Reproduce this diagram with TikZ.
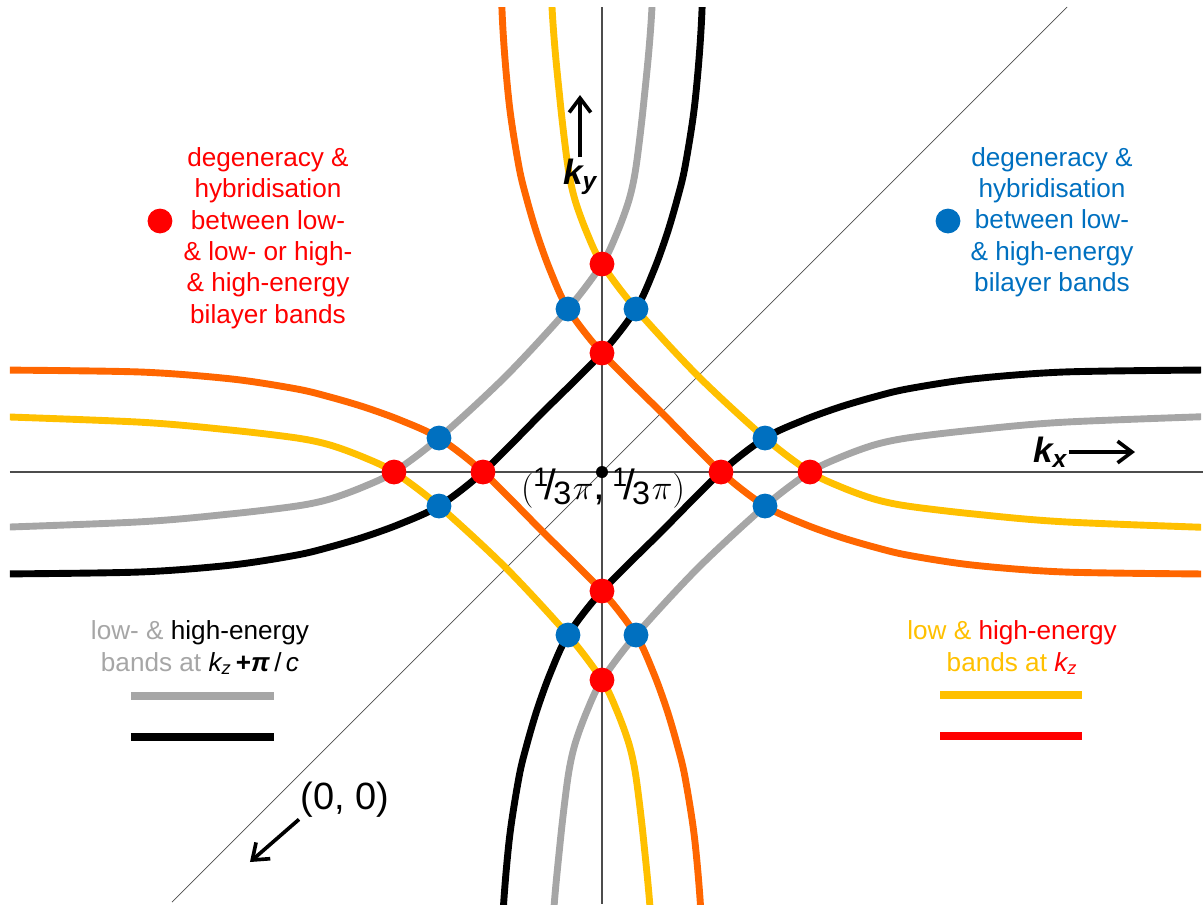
\documentclass[tikz,border=0pt]{standalone}
\usepackage{fontspec}
\setmainfont{Liberation Sans}
\usetikzlibrary{arrows.meta}
\definecolor{Orange}{HTML}{FF6600}
\definecolor{Amber}{HTML}{FFC000}
\definecolor{Grey}{HTML}{A6A6A6}
\definecolor{Red}{HTML}{FF0000}
\definecolor{Blue}{HTML}{0070C0}
\newcommand{\third}{\raisebox{0.32em}{\fontsize{19}{19}\selectfont 1}\kern-0.1em/\kern-0.06em\raisebox{-0.12em}{\fontsize{23}{23}\selectfont 3}\kern0.04em$\pi$}
\begin{document}
\begin{tikzpicture}[x=0.025cm,y=0.025cm,
 band/.style={line width=4.9pt},
 innerband/.pic={\draw[band] plot[smooth] coordinates{(-102,605) (-100,462) (-93,370) (-83,305) (-75,272) (-65,238) (-52,202) (-34,163) (0,119) (59.5,59.5) (119,0) (163,-34) (202,-52) (238,-65) (272,-75) (305,-83) (370,-93) (462,-100) (605,-102)};},
 outerband/.pic={\draw[band] plot[smooth] coordinates{(-57,650) (-50,465) (-42,372) (-34,305) (-27,272) (-15,239) (0,208) (34,163) (96,96) (163,34) (208,0) (239,-15) (272,-27) (305,-34) (372,-42) (465,-50) (650,-57)};},
 dot/.style={circle,fill=#1,minimum size=0.62cm,inner sep=0pt},
 note/.style={font=\fontsize{18.6}{22.3}\selectfont,align=center,inner sep=0pt},
 kaxis/.style={line width=0.8pt,draw=black!70},
 legline/.style={line width=5.7pt,draw=#1},
 pointer/.style={-{Straight Barb[length=3.6mm,width=5.4mm]},line width=2.6pt},
 klabel/.style={font=\fontsize{25}{29}\selectfont\bfseries\itshape,inner sep=1pt}]
 \useasboundingbox(-602,-432)rectangle(601,472);
 % axes and diagonal
 \draw[kaxis](-592,0)--(601,0);\draw[kaxis](0,465)--(0,-432);
 \draw[line width=0.5pt,draw=black!70](-430,-430)--(465,465);
 % bands
 \begin{scope}
  \clip(-592,-432)rectangle(599,465);
  \pic[color=Orange]{innerband};\pic[color=Orange,rotate=180]{innerband};
  \pic[color=black,rotate=90]{innerband};\pic[color=black,rotate=270]{innerband};
  \pic[color=Amber]{outerband};\pic[color=Amber,rotate=180]{outerband};
  \pic[color=Grey,rotate=90]{outerband};\pic[color=Grey,rotate=270]{outerband};
 \end{scope}
 % crossing points
 \node[dot=Red](r1) at (0,208){};\node[dot=Red](r2) at (0,119){};\node[dot=Red](r3) at (0,-119){};\node[dot=Red](r4) at (0,-208){};
 \node[dot=Red](r5) at (208,0){};\node[dot=Red](r6) at (119,0){};\node[dot=Red](r7) at (-119,0){};\node[dot=Red](r8) at (-208,0){};
 \node[dot=Blue](b1) at (34,163){};\node[dot=Blue](b2) at (-34,163){};\node[dot=Blue](b3) at (34,-163){};\node[dot=Blue](b4) at (-34,-163){};
 \node[dot=Blue](b5) at (163,34){};\node[dot=Blue](b6) at (163,-34){};\node[dot=Blue](b7) at (-163,34){};\node[dot=Blue](b8) at (-163,-34){};
 \node[font=\fontsize{30}{34}\selectfont,inner sep=0pt](centrelabel) at (1,-16){$($\third,\,\third$)$};
 \node[circle,fill=black,minimum size=0.3cm,inner sep=0pt](centre) at (0,0){};
 % axis labels
 \node[klabel](ky) at (-22,295){k\textsubscript{y}};
 \coordinate(kytip) at (-22,377);
 \draw[pointer](ky.north)--(kytip);
 \node[klabel](kx) at (448,20){k\textsubscript{x}};
 \coordinate(kxtip) at (533,20);
 \draw[pointer](kx.east)--(kxtip);
 \node[font=\fontsize{27}{32}\selectfont,inner sep=1pt](origin) at (-257,-328){(0, 0)};
 \coordinate(origintip) at (-352,-390);
 \draw[pointer](origin.south west)--(origintip);
 % legends
 \node[dot=Red](redkey) at (-442,251){};
 \node[note,text=Red](redtxt) at (-334,234){degeneracy \&\\hybridisation\\between low-\\\& low- or high-\\\& high-energy\\bilayer bands};
 \node[dot=Blue](bluekey) at (346,251){};
 \node[note,text=Blue](bluetxt) at (450,250){degeneracy \&\\hybridisation\\between low-\\\& high-energy\\bilayer bands};
 \node[note](greytxt) at (-402,-176){{\color{Grey}low- \&} high-energy\\{\color{Grey}bands at} \textit{k\textsubscript{z}}\,\textbf{+}\textbf{\textit{π}}\,/\,\textit{c}};
 \draw[legline=Grey](-471,-224)--(-328,-224);
 \draw[legline=black](-471,-265)--(-328,-265);
 \node[note](ambertxt) at (410,-176){{\color{Amber}low \&} {\color{Red}high-energy}\\{\color{Amber}bands at} {\color{Red}\textit{k\textsubscript{z}}}};
 \draw[legline=Amber](338,-223)--(480,-223);
 \draw[legline=Red](338,-264)--(480,-264);
\end{tikzpicture}
\end{document}
